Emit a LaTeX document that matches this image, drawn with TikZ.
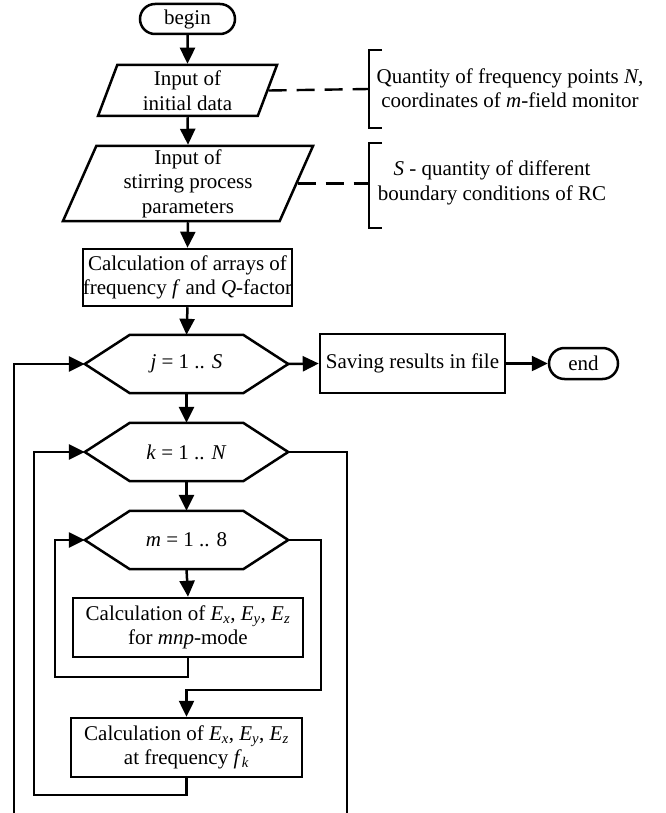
\documentclass[tikz,border=0pt]{standalone}
\usepackage{fontspec}
\setmainfont{Liberation Serif}
\usetikzlibrary{arrows.meta,shapes.geometric,shapes.misc}
\newcommand\ital[1]{\textit{#1}}
\newcommand\sbi[1]{\textsubscript{\textit{#1}}}
\newcommand\hexpath[1]{\draw[ln] (#1.west) -- ([xshift=45pt]#1.north west) -- ([xshift=-45pt]#1.north east) -- (#1.east) -- ([xshift=-45pt]#1.south east) -- ([xshift=45pt]#1.south west) -- cycle;}
\begin{document}
\begin{tikzpicture}[x=1pt,y=-1pt,
 ln/.style={line width=2.5pt, line join=miter},
 arr/.style={ln, -{Triangle[length=16pt,width=15pt]}},
 txt/.style={font=\fontsize{21}{24.5}\selectfont, align=center, inner sep=0pt},
 box/.style={txt, draw, ln, rectangle},
 term/.style={txt, draw, ln, rounded rectangle},
 para/.style={txt, draw, ln, trapezium, trapezium left angle=64, trapezium right angle=116, trapezium stretches body},
 hexa/.style={txt, rectangle, minimum width=203pt, minimum height=58pt},
 dsh/.style={line width=2.4pt, dash pattern=on 18pt off 10pt}]
\useasboundingbox (0,0) rectangle (665,813);
\node[term, minimum width=95pt, minimum height=30pt] (begin) at (187.5,19) {begin};
\node[para, minimum width=179pt, minimum height=51pt] (p1) at (187.5,90.5) {Input of\\initial data};
\node[para, minimum width=250pt, minimum height=75pt] (p2) at (188,183.5) {Input of\\stirring process\\parameters};
\node[box, minimum width=205pt, minimum height=57pt] (calc) at (187.5,277.5) {Calculation of arrays of\\frequency \ital{f} and \ital{Q}-factor};
\node[hexa] (j) at (186.5,364) {\ital{j} = 1 .. \ital{S}};
\hexpath{j}
\node[box, minimum width=185pt, minimum height=59pt] (save) at (412.5,363.5) {Saving results in file};
\node[term, minimum width=69pt, minimum height=31pt] (end) at (583.5,363.5) {end};
\node[hexa] (k) at (186.5,452) {\ital{k} = 1 .. \ital{N}};
\hexpath{k}
\node[hexa] (m) at (186.5,540) {\ital{m} = 1 .. 8};
\hexpath{m}
\node[box, minimum width=230pt, minimum height=59pt] (r1) at (188,627.5) {Calculation of \ital{E}\sbi{x}, \ital{E}\sbi{y}, \ital{E}\sbi{z}\\for \ital{mnp}-mode};
\node[box, minimum width=231pt, minimum height=59pt] (r2) at (186.5,747.5) {Calculation of \ital{E}\sbi{x}, \ital{E}\sbi{y}, \ital{E}\sbi{z}\\at frequency \ital{f}\sbi{k}};
\node[txt] (a1) at (510,88) {Quantity of frequency points \ital{N},\\coordinates of \ital{m}-field monitor};
\node[txt] (a2) at (492,183) {\ital{S} - quantity of different\\boundary conditions of RC};
% brackets
\draw[ln] (382,50) -- (369,50) -- (369,128) -- (382,128);
\draw[ln] (382,143) -- (369,143) -- (369,228) -- (382,228);
\coordinate (b1) at (369,89);
\coordinate (b2) at (369,183.5);
\draw[dsh] (p1.right side) -- (b1);
\draw[dsh] (p2.right side) -- (b2);
% main flow
\draw[arr] (begin.south) -- (p1.north);
\draw[arr] (p1.south) -- (p2.north);
\draw[arr] (p2.south) -- (calc.north);
\draw[arr] (calc.south) -- (j.north);
\draw[arr] (j.south) -- (k.north);
\draw[arr] (k.south) -- (m.north);
\draw[arr] (m.south) -- (r1.north);
\draw[arr] (j.east) -- (save.west);
\draw[arr] (save.east) -- (end.west);
% loops
\coordinate (mL) at (55,677);
\coordinate (mR) at (321,690);
\coordinate (kL) at (34,795);
\coordinate (kR) at (347,813);
\coordinate (jL) at (14,813);
\draw[arr] (r1.south) |- (mL) |- (m.west);
\draw[arr] (m.east) -| (mR) -| (r2.north);
\draw[arr] (r2.south) |- (kL) |- (k.west);
\draw[ln] (k.east) -| (kR);
\draw[arr] (jL) |- (j.west);
\end{tikzpicture}
\end{document}
